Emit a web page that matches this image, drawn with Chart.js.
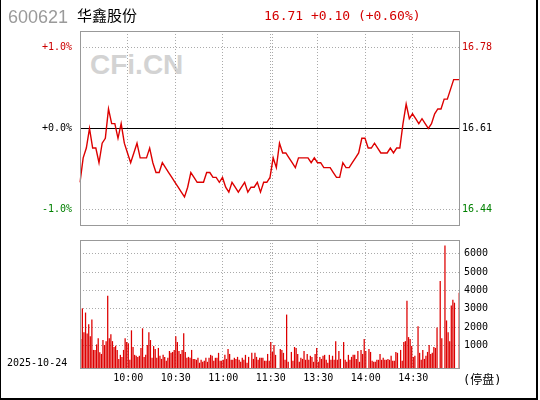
<!DOCTYPE html>
<html>
<head>
<meta charset="utf-8">
<script src="https://cdn.jsdelivr.net/npm/chart.js@4.4.1/dist/chart.umd.min.js"></script>
<style>
body { margin: 0; background: #fff; }
#wrap { position: relative; width: 540px; height: 400px; overflow: hidden; }
#frame { position: absolute; left: 0; top: 0; width: 535px; height: 398px; border-left: 1px solid #000; border-right: 2px solid #000; border-bottom: 2px solid #000; }
.txt { position: absolute; white-space: nowrap; }
#code { left: 8px; top: 8px; font: 18px/18px "Liberation Sans", Arial, sans-serif; color: #9a9a9a; }
#name { left: 77px; top: 7px; font: 15px/15px "Noto Sans CJK SC", sans-serif; color: #000; }
#quote { left: 264px; top: 9px; font: 13px/13px "DejaVu Sans Mono", monospace; color: #d40000; }
#mark { left: 90px; top: 51px; font: bold 28px/28px "Liberation Sans", Arial, sans-serif; color: #d3d3d3; }
#date { left: 7px; top: 358px; font: 10px/10px "DejaVu Sans Mono", monospace; color: #000; }
#halt { left: 463px; top: 373px; font: 12px/14px "DejaVu Sans Mono", "Noto Sans CJK SC", monospace; color: #000; }
canvas { position: absolute; left: 0; }
#price { top: 0; }
#vol { top: 230px; }
</style>
</head>
<body>
<div id="wrap">
  <div id="frame"></div>
  <div class="txt" id="mark">CFi.CN</div>
  <canvas id="price" width="540" height="240"></canvas>
  <canvas id="vol" width="540" height="170"></canvas>
  <div class="txt" id="code">600621</div>
  <div class="txt" id="name">华鑫股份</div>
  <div class="txt" id="quote">16.71 +0.10 (+0.60%)</div>
  <div class="txt" id="date">2025-10-24</div>
  <div class="txt" id="halt">(停盘)</div>
</div>
<script>
// previous close, the 0% line
const basePrice = 16.61;

// price every 2 minutes, 9:30 .. 11:30 then 13:02 .. 15:00
const prices = [
    16.50, 16.55, 16.57, 16.61, 16.57, 16.57, 16.54, 16.58, 16.59, 16.65,
    16.62, 16.62, 16.59, 16.62, 16.58, 16.56, 16.54, 16.56, 16.58, 16.55,
    16.55, 16.55, 16.57, 16.54, 16.52, 16.52, 16.54, 16.53, 16.52, 16.51,
    16.50, 16.49, 16.48, 16.47, 16.49, 16.52, 16.51, 16.50, 16.50, 16.50,
    16.52, 16.52, 16.51, 16.51, 16.50, 16.51, 16.49, 16.48, 16.50, 16.49,
    16.48, 16.49, 16.50, 16.48, 16.49, 16.49, 16.50, 16.48, 16.50, 16.50,
    16.51, 16.55, 16.53, 16.58, 16.56, 16.56, 16.55, 16.54, 16.53, 16.55,
    16.55, 16.55, 16.55, 16.54, 16.55, 16.54, 16.54, 16.53, 16.53, 16.53,
    16.52, 16.51, 16.51, 16.54, 16.53, 16.53, 16.54, 16.55, 16.56, 16.59,
    16.59, 16.57, 16.57, 16.58, 16.57, 16.56, 16.56, 16.56, 16.57, 16.56,
    16.57, 16.57, 16.62, 16.66, 16.63, 16.64, 16.63, 16.62, 16.63, 16.62,
    16.61, 16.62, 16.64, 16.65, 16.65, 16.67, 16.67, 16.69, 16.71, 16.71,
    16.71
];

// volume per minute (hands), morning 9:30 .. 11:29
const amVolume = [
    1340, 3020, 1720, 2790, 1640, 2150, 1500, 2410, 750, 750,
    1050, 1390, 620, 530, 1290, 1020, 1230, 3710, 1390, 1610,
    1230, 910, 980, 750, 260, 480, 370, 750, 1390, 1180,
    1120, 210, 1820, 910, 480, 430, 370, 430, 860, 1930,
    370, 480, 1020, 1720, 1290, 320, 960, 800, 320, 860,
    430, 260, 480, 370, 160, 320, 690, 590, 640, 750,
    1500, 1180, 690, 530, 750, 1660, 640, 320, 370, 320,
    750, 260, 260, 210, 320, 50, 210, 100, 160, 320,
    100, 320, 480, 430, 160, 320, 320, 590, 160, 160,
    210, 480, 260, 800, 530, 210, 210, 320, 260, 370,
    210, 100, 320, 210, 480, 50, 370, null, 590, 260,
    590, 370, 210, 320, 320, 320, 160, 160, 530, 160
];

// afternoon 13:00 .. 14:59
const pmVolume = [
    1180, 640, 1020, 480, null, null, 800, 750, 590, 210,
    2680, 100, null, 640, 160, 910, 860, 530, 100, 320,
    260, 690, 210, 530, 210, 430, 370, 100, 530, 860,
    100, 370, 260, 430, 480, 210, 50, 480, 210, 430,
    210, 1230, 210, 690, 260, null, 1180, 210, 100, 480,
    210, 370, 480, 480, 260, 690, 100, 750, 530, 1340,
    690, null, 800, 640, 160, 100, 100, 210, 210, 530,
    210, 320, 210, 210, 260, 210, 430, 160, 160, 640,
    590, null, 750, 160, 1180, 1230, 3440, 1450, 1340, 960,
    370, 430, null, 2040, 590, 210, 750, 260, 430, 640,
    1020, 530, 590, 910, 860, 1980, null, 4510, 1390, null,
    6450, 2360, 1720, 1230, 3170, 3490, 3330, null, null, 3870
];

const pctTicks = [-1, 0, 1];
const priceTicks = [basePrice * 0.99, basePrice, basePrice * 1.01];
const volTicks = [1000, 2000, 3000, 4000, 5000, 6000];
const priceGridTimes = ['10:00', '10:30', '11:00', '11:30', '13:30', '14:00', '14:30'];
const volGridTimes = ['10:00', '10:30', '11:00', '13:00', '13:30', '14:00', '14:30'];

function hhmm(m) {
    let mm = m % 60;
    return Math.floor(m / 60) + ':' + (mm < 10 ? '0' : '') + mm;
}

let priceTimes = [];
for (let k = 0; k <= 60; k++) priceTimes.push(hhmm(570 + 2 * k));
for (let k = 1; k <= 60; k++) priceTimes.push(hhmm(780 + 2 * k));

let volTimes = [];
for (let k = 0; k < 120; k++) volTimes.push(hhmm(570 + k));
for (let k = 0; k < 120; k++) volTimes.push(hhmm(780 + k));

const volume = amVolume.concat(pmVolume);
const volMin = -292;
const volMax = 6753;

const tickFont = { family: 'DejaVu Sans Mono', size: 10 };
const gridGray = '#aaaaaa';

function upDownColor(v, mid) {
    if (Math.abs(v - mid) < 1e-6) return '#000000';
    return v > mid ? '#cc0000' : '#008000';
}

const boxPlugin = {
    id: 'box',
    afterDraw(chart) {
        const { ctx, chartArea: a } = chart;
        ctx.save();
        ctx.strokeStyle = '#999999';
        ctx.lineWidth = 1;
        ctx.strokeRect(Math.round(a.left) + 0.5, Math.round(a.top) + 0.5,
            Math.round(a.right - a.left) - 1, Math.round(a.bottom - a.top) - 1);
        ctx.restore();
    }
};

// lunch break: second dotted line beside the 11:30 / 13:00 grid line
const lunchPlugin = {
    id: 'lunch',
    beforeDatasetsDraw(chart, args, opts) {
        const { ctx, chartArea: a, scales } = chart;
        const px = Math.round(opts.at(scales.x)) + 2.5;
        ctx.save();
        ctx.strokeStyle = gridGray;
        ctx.lineWidth = 1;
        ctx.setLineDash([1, 2]);
        ctx.beginPath();
        ctx.moveTo(px, a.top);
        ctx.lineTo(px, a.bottom);
        ctx.stroke();
        ctx.restore();
    }
};

let priceChart = new Chart(document.getElementById('price'), {
    type: 'line',
    data: {
        labels: priceTimes,
        datasets: [{
            data: prices,
            yAxisID: 'y',
            borderColor: '#dd0000',
            borderWidth: 1.4,
            pointRadius: 0,
            tension: 0
        }]
    },
    options: {
        responsive: false,
        animation: false,
        events: [],
        layout: { autoPadding: false, padding: { top: 31, bottom: 12, left: 0, right: 0 } },
        plugins: {
            legend: { display: false },
            tooltip: { enabled: false },
            lunch: { at: s => s.getPixelForValue(priceTimes.indexOf('11:30')) }
        },
        scales: {
            x: {
                offset: false,
                ticks: { display: false, autoSkip: false },
                grid: {
                    drawTicks: false,
                    color: c => priceGridTimes.includes(priceTimes[c.index]) ? gridGray : 'rgba(0,0,0,0)'
                },
                border: { display: false, dash: [1, 2] },
                afterFit: s => { s.height = 0; }
            },
            pct: {
                position: 'left',
                min: -1.2,
                max: 1.2,
                afterBuildTicks: s => { s.ticks = pctTicks.map(v => ({ value: v })); },
                ticks: {
                    padding: 8,
                    font: tickFont,
                    color: c => upDownColor(c.tick.value, 0),
                    callback: v => (v >= 0 ? '+' : '') + v.toFixed(1) + '%'
                },
                grid: {
                    drawTicks: false,
                    color: c => (c.tick && c.tick.value === 0) ? '#000000' : gridGray
                },
                border: {
                    display: false,
                    dash: c => (c.tick && c.tick.value === 0) ? [] : [1, 2]
                },
                afterFit: s => { s.width = 80; }
            },
            y: {
                position: 'right',
                min: basePrice * 0.988,
                max: basePrice * 1.012,
                afterBuildTicks: s => { s.ticks = priceTicks.map(v => ({ value: v })); },
                ticks: {
                    padding: 2,
                    font: tickFont,
                    color: c => upDownColor(c.tick.value, basePrice),
                    callback: v => v.toFixed(2)
                },
                grid: { drawOnChartArea: false, drawTicks: false },
                border: { display: false },
                afterFit: s => { s.width = 80; }
            }
        }
    },
    plugins: [boxPlugin, lunchPlugin]
});

let volChart = new Chart(document.getElementById('vol'), {
    type: 'bar',
    data: {
        labels: volTimes,
        datasets: [{
            data: volume,
            base: volMin,
            backgroundColor: '#dd0000',
            barPercentage: 0.8,
            categoryPercentage: 1
        }]
    },
    options: {
        responsive: false,
        animation: false,
        events: [],
        layout: { autoPadding: false, padding: { top: 8, bottom: 0, left: 80, right: 0 } },
        plugins: {
            legend: { display: false },
            tooltip: { enabled: false },
            lunch: { at: s => (s.getPixelForValue(119) + s.getPixelForValue(120)) / 2 }
        },
        scales: {
            x: {
                ticks: {
                    autoSkip: false,
                    maxRotation: 0,
                    padding: 3,
                    font: tickFont,
                    color: '#000000',
                    callback: (v, i) => {
                        let t = volTimes[i];
                        if (!volGridTimes.includes(t)) return '';
                        return t === '13:00' ? '11:30' : t;
                    }
                },
                grid: {
                    offset: true,
                    drawTicks: false,
                    color: c => volGridTimes.includes(volTimes[c.index]) ? gridGray : 'rgba(0,0,0,0)'
                },
                border: { display: false, dash: [1, 2] },
                afterFit: s => { s.height = 31; }
            },
            y: {
                position: 'right',
                min: volMin,
                max: volMax,
                afterBuildTicks: s => { s.ticks = volTicks.map(v => ({ value: v })); },
                ticks: { padding: 4, font: tickFont, color: '#000000', callback: v => String(v) },
                grid: { drawTicks: false, color: gridGray },
                border: { display: false, dash: [1, 2] },
                afterFit: s => { s.width = 80; }
            }
        }
    },
    plugins: [boxPlugin, lunchPlugin]
});
</script>
</body>
</html>
